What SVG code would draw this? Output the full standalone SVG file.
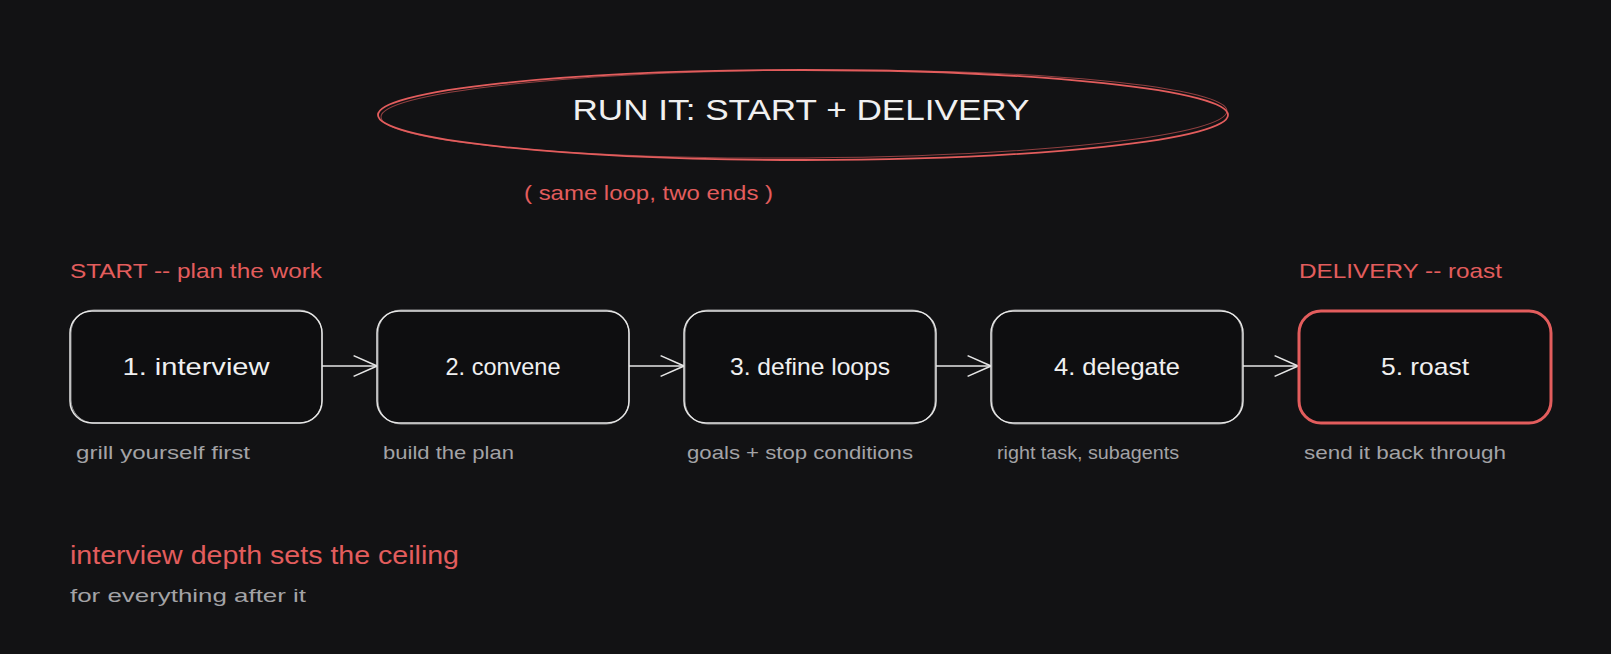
<svg xmlns="http://www.w3.org/2000/svg" width="1611" height="654" viewBox="0 0 1611 654">
<defs>
<style>
text{font-family:"Liberation Sans","DejaVu Sans",sans-serif}
.box{fill:#0e0e10;stroke:#e6e6e6;stroke-width:1.5}
.box2{fill:none;stroke:#e6e6e6;stroke-width:1;opacity:.6}
.boxr{fill:#0e0e10;stroke:#e35d5d;stroke-width:3}
.lbl{fill:#f0f0f0;font-size:24px;text-anchor:middle;dominant-baseline:central}
.sub{fill:#a3a3a6;font-size:19px;dominant-baseline:central}
.red{fill:#e35d5d;dominant-baseline:central}
.conn{stroke:#e6e6e6;stroke-width:1.5;fill:none}
</style>
<marker id="ah" viewBox="0 0 20 20" refX="19" refY="10" markerWidth="26" markerHeight="26" markerUnits="userSpaceOnUse" orient="auto">
<path d="M1 2 L19 10 L1 18" fill="none" stroke="#e6e6e6" stroke-width="1.2"/>
</marker>
</defs>
<rect width="1611" height="654" fill="#121214"/>
<g id="title">
<ellipse cx="803" cy="115" rx="425" ry="45" fill="none" stroke="#e35d5d" stroke-width="1.8"/>
<ellipse cx="804" cy="114" rx="423" ry="44" fill="none" stroke="#e35d5d" stroke-width="1" opacity=".6" transform="rotate(-0.4 803 115)"/>
<text x="801" y="109" fill="#f0f0f0" font-size="30" text-anchor="middle" dominant-baseline="central" textLength="457" lengthAdjust="spacingAndGlyphs">RUN IT: START + DELIVERY</text>
</g>
<g id="subtitle"><text x="524" y="192" class="red" font-size="21" textLength="249" lengthAdjust="spacingAndGlyphs">( same loop, two ends )</text></g>
<g id="start-label"><text x="70" y="270" class="red" font-size="21" textLength="252" lengthAdjust="spacingAndGlyphs">START -- plan the work</text></g>
<g id="delivery-label"><text x="1299" y="270" class="red" font-size="21" textLength="203" lengthAdjust="spacingAndGlyphs">DELIVERY -- roast</text></g>
<g id="connectors">
<path class="conn" d="M322 366 L377 366" marker-end="url(#ah)"/>
<path class="conn" d="M629 366 L684 366" marker-end="url(#ah)"/>
<path class="conn" d="M936 366 L991 366" marker-end="url(#ah)"/>
<path class="conn" d="M1243 366 L1298 366" marker-end="url(#ah)"/>
</g>
<g id="n1">
<rect class="box" x="70" y="311" width="252" height="112" rx="22"/>
<rect class="box2" x="71" y="310" width="251" height="113" rx="23"/>
<text class="lbl" x="196" y="366" textLength="147" lengthAdjust="spacingAndGlyphs">1. interview</text>
<text class="sub" x="76" y="452" textLength="174" lengthAdjust="spacingAndGlyphs">grill yourself first</text>
</g>
<g id="n2">
<rect class="box" x="377" y="311" width="252" height="112" rx="22"/>
<rect class="box2" x="378" y="310" width="251" height="114" rx="23"/>
<text class="lbl" x="503" y="366" textLength="115" lengthAdjust="spacingAndGlyphs">2. convene</text>
<text class="sub" x="383" y="452" textLength="131" lengthAdjust="spacingAndGlyphs">build the plan</text>
</g>
<g id="n3">
<rect class="box" x="684" y="311" width="252" height="112" rx="22"/>
<rect class="box2" x="685" y="310" width="250" height="114" rx="23"/>
<text class="lbl" x="810" y="366" textLength="160" lengthAdjust="spacingAndGlyphs">3. define loops</text>
<text class="sub" x="687" y="452" textLength="226" lengthAdjust="spacingAndGlyphs">goals + stop conditions</text>
</g>
<g id="n4">
<rect class="box" x="991" y="311" width="252" height="112" rx="22"/>
<rect class="box2" x="992" y="310" width="250" height="114" rx="23"/>
<text class="lbl" x="1117" y="366" textLength="126" lengthAdjust="spacingAndGlyphs">4. delegate</text>
<text class="sub" x="997" y="452" textLength="182" lengthAdjust="spacingAndGlyphs">right task, subagents</text>
</g>
<g id="n5">
<rect class="boxr" x="1299" y="311" width="252" height="112" rx="22"/>
<text class="lbl" x="1425" y="366" textLength="88" lengthAdjust="spacingAndGlyphs">5. roast</text>
<text class="sub" x="1304" y="452" textLength="202" lengthAdjust="spacingAndGlyphs">send it back through</text>
</g>
<g id="note">
<text x="70" y="555" class="red" font-size="25" textLength="389" lengthAdjust="spacingAndGlyphs">interview depth sets the ceiling</text>
<text x="70" y="595" class="sub" font-size="20" textLength="236" lengthAdjust="spacingAndGlyphs">for everything after it</text>
</g>
</svg>
